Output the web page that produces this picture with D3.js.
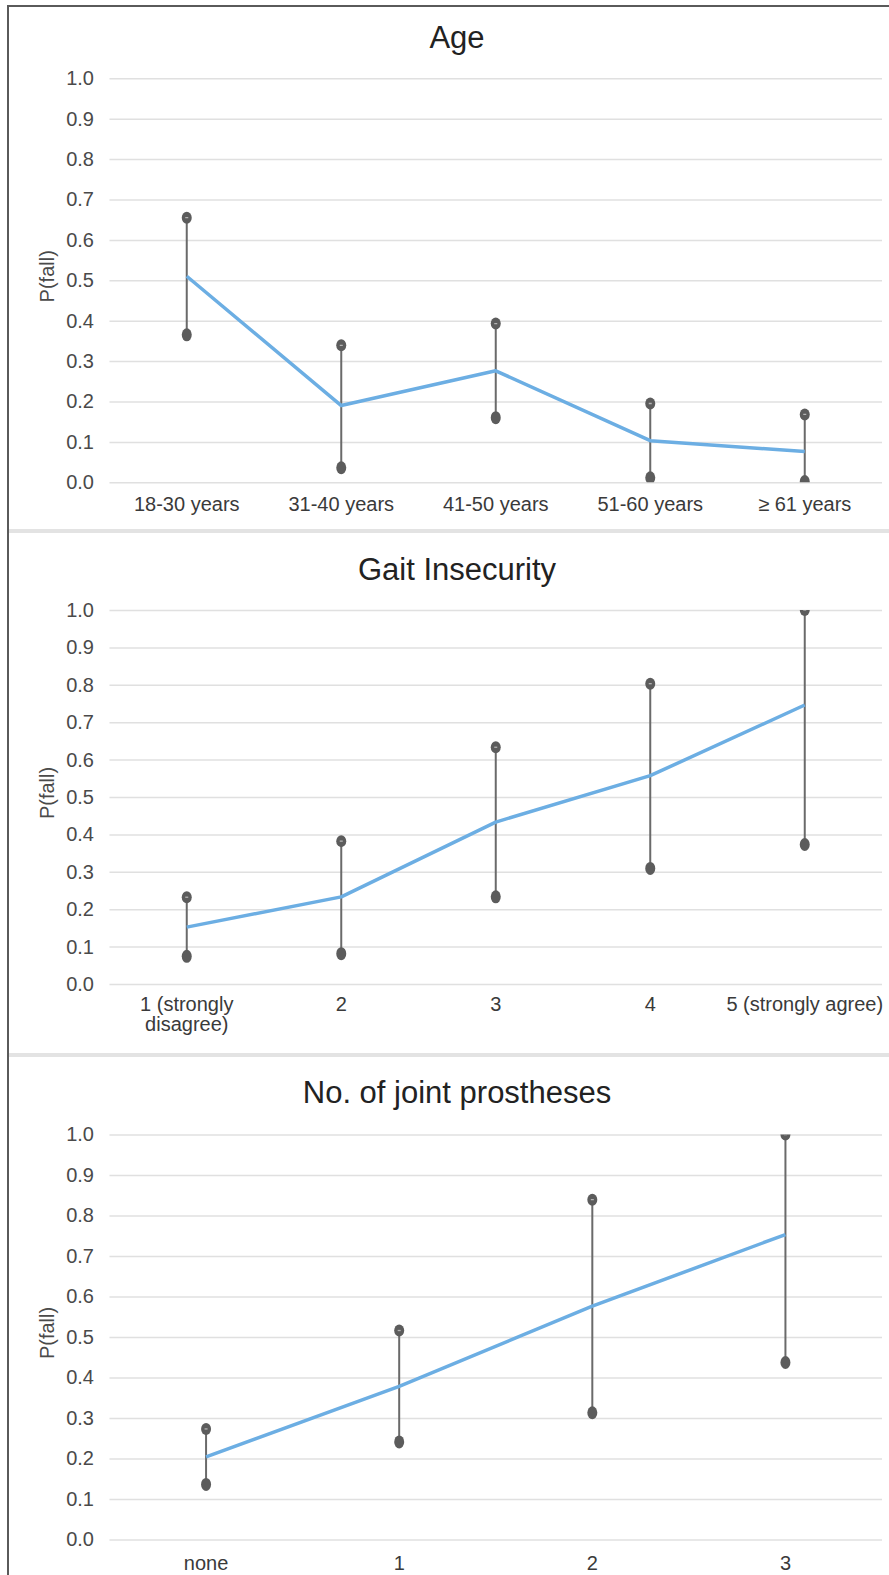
<!DOCTYPE html>
<html>
<head>
  <meta charset="utf-8" />
  <style>
    body { margin: 0; background: #fff; }
    text { font-family: "Liberation Sans", Arial, sans-serif; }
  </style>
</head>
<body>
  <svg id="chart" width="889" height="1575"></svg>

  <script src="https://d3js.org/d3.v7.min.js"></script>
  <script>
    // data
    var yTicks = [0, 0.1, 0.2, 0.3, 0.4, 0.5, 0.6, 0.7, 0.8, 0.9, 1.0];

    var ageCats = ["18-30 years", "31-40 years", "41-50 years", "51-60 years", "\u2265 61 years"];
    var ageMean = [0.51, 0.19, 0.276, 0.103, 0.076];
    var ageHigh = [0.655, 0.339, 0.393, 0.195, 0.168];
    var ageLow = [0.365, 0.036, 0.16, 0.011, 0.002];

    var gaitCats = [["1 (strongly", "disagree)"], ["2"], ["3"], ["4"], ["5 (strongly agree)"]];
    var gaitMean = [0.152, 0.233, 0.433, 0.557, 0.746];
    var gaitHigh = [0.232, 0.382, 0.633, 0.803, 1.0];
    var gaitLow = [0.074, 0.081, 0.233, 0.309, 0.373];

    var jointCats = ["none", "1", "2", "3"];
    var jointMean = [0.204, 0.378, 0.576, 0.753];
    var jointHigh = [0.273, 0.516, 0.839, 1.0];
    var jointLow = [0.136, 0.241, 0.313, 0.437];

    var svg = d3.select("#chart");
    svg.append("rect").attr("width", 889).attr("height", 1575).attr("fill", "#fff");

    // panel separators
    [531, 1055].forEach(function (y) {
      svg.append("line")
        .attr("x1", 9).attr("x2", 889)
        .attr("y1", y).attr("y2", y)
        .attr("stroke", "#e3e3e3").attr("stroke-width", 4);
    });

    // outer frame (left + top)
    svg.append("line").attr("x1", 8).attr("x2", 8).attr("y1", 5).attr("y2", 1575)
      .attr("stroke", "#5a5a5a").attr("stroke-width", 2);
    svg.append("line").attr("x1", 7).attr("x2", 889).attr("y1", 6).attr("y2", 6)
      .attr("stroke", "#5a5a5a").attr("stroke-width", 2);

    function drawPanel(opt) {
      var labels = opt.cats.map(function (c) { return Array.isArray(c) ? c.join(" ") : c; });

      var x = d3.scaleBand().domain(labels).range([109.5, 882]);
      var y = d3.scaleLinear().domain([0, 1]).range([opt.bottom, opt.top]);

      var g = svg.append("g");

      // title
      g.append("text")
        .attr("x", 457).attr("y", opt.titleY)
        .attr("text-anchor", "middle")
        .attr("font-size", 31)
        .attr("fill", "#222")
        .text(opt.title);

      // gridlines
      g.append("g")
        .attr("transform", "translate(109.5,0)")
        .call(d3.axisLeft(y).tickValues(yTicks).tickSize(-772.5).tickFormat(""))
        .call(function (s) {
          s.select(".domain").remove();
          s.selectAll(".tick line").attr("stroke", "#e0e0e0").attr("stroke-width", 1.5);
        });

      // y tick labels
      g.append("g")
        .attr("transform", "translate(94,0)")
        .call(d3.axisLeft(y).tickValues(yTicks).tickSize(0).tickPadding(0).tickFormat(d3.format(".1f")))
        .call(function (s) {
          s.select(".domain").remove();
          s.selectAll(".tick text")
            .attr("font-size", 20)
            .attr("font-family", "Liberation Sans, Arial, sans-serif")
            .attr("fill", "#4a4a4a");
        });

      // y axis title
      g.append("text")
        .attr("transform", "translate(54," + ((opt.top + opt.bottom) / 2 - 4) + ") rotate(-90)")
        .attr("text-anchor", "middle")
        .attr("font-size", 20)
        .attr("fill", "#4a4a4a")
        .text("P(fall)");

      // x labels
      var xl = g.append("g")
        .attr("transform", "translate(0," + opt.bottom + ")")
        .call(d3.axisBottom(x).tickSize(0).tickPadding(0).tickFormat(""));
      xl.select(".domain").remove();
      xl.selectAll(".tick").each(function (d, i) {
        var lines = Array.isArray(opt.cats[i]) ? opt.cats[i] : [opt.cats[i]];
        var t = d3.select(this).append("text")
          .attr("text-anchor", "middle")
          .attr("font-size", 20)
          .attr("fill", "#3a3a3a");
        lines.forEach(function (ln, k) {
          t.append("tspan").attr("x", 0).attr("y", opt.labelDy + k * 20).text(ln);
        });
      });

      var clipId = "clip" + opt.key;
      g.append("clipPath").attr("id", clipId)
        .append("rect")
        .attr("x", 100).attr("width", 790)
        .attr("y", opt.top).attr("height", opt.bottom - opt.top);

      var plot = g.append("g").attr("clip-path", "url(#" + clipId + ")");

      var pts = labels.map(function (l, i) {
        return { cat: l, cx: x(l) + x.bandwidth() / 2, mean: opt.mean[i], hi: opt.high[i], lo: opt.low[i] };
      });

      // error bars
      plot.selectAll(".err").data(pts).enter().append("line")
        .attr("x1", function (d) { return d.cx; })
        .attr("x2", function (d) { return d.cx; })
        .attr("y1", function (d) { return y(d.hi); })
        .attr("y2", function (d) { return y(d.lo); })
        .attr("stroke", "#6a6a6a").attr("stroke-width", 2);

      // mean line
      plot.append("path")
        .datum(pts)
        .attr("fill", "none")
        .attr("stroke", "#6caee3")
        .attr("stroke-width", 3.5)
        .attr("stroke-linejoin", "round")
        .attr("d", d3.line().x(function (d) { return d.cx; }).y(function (d) { return y(d.mean); }));

      // lower markers
      plot.selectAll(".lo").data(pts).enter().append("ellipse")
        .attr("cx", function (d) { return d.cx; })
        .attr("cy", function (d) { return y(d.lo); })
        .attr("rx", 5).attr("ry", 6.5)
        .attr("fill", "#5c5c5c");

      // upper markers
      plot.selectAll(".hi").data(pts).enter().append("ellipse")
        .attr("cx", function (d) { return d.cx; })
        .attr("cy", function (d) { return y(d.hi); })
        .attr("rx", 5).attr("ry", 6)
        .attr("fill", "#5c5c5c");
      plot.selectAll(".hidash").data(pts).enter().append("line")
        .attr("x1", function (d) { return d.cx - 1.5; })
        .attr("x2", function (d) { return d.cx + 1.5; })
        .attr("y1", function (d) { return y(d.hi); })
        .attr("y2", function (d) { return y(d.hi); })
        .attr("stroke", "#b4b4b4").attr("stroke-width", 1.3);
    }

    drawPanel({ key: "age", title: "Age", titleY: 48, top: 78.3, bottom: 482.3, labelDy: 29,
      cats: ageCats, mean: ageMean, high: ageHigh, low: ageLow });
    drawPanel({ key: "gait", title: "Gait Insecurity", titleY: 580, top: 610, bottom: 984, labelDy: 27,
      cats: gaitCats, mean: gaitMean, high: gaitHigh, low: gaitLow });
    drawPanel({ key: "joint", title: "No. of joint prostheses", titleY: 1103, top: 1134.5, bottom: 1539.5, labelDy: 30,
      cats: jointCats, mean: jointMean, high: jointHigh, low: jointLow });
  </script>
</body>
</html>
